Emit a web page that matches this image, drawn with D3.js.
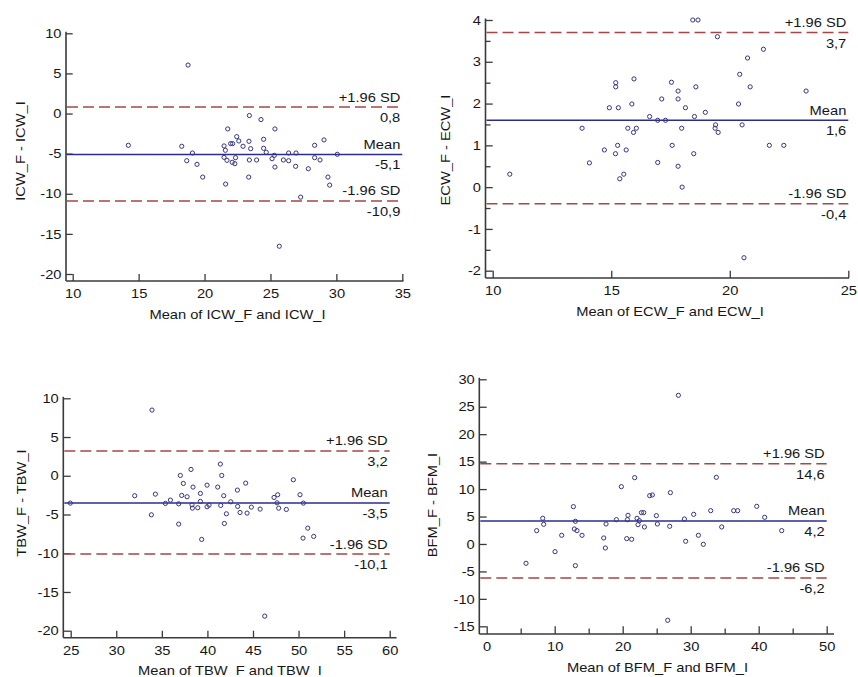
<!DOCTYPE html>
<html><head><meta charset="utf-8">
<script src="https://cdn.jsdelivr.net/npm/d3@7"></script>
<style>
html,body{margin:0;padding:0;background:#fff;}
svg{display:block;}
text{font-family:"Liberation Sans",Arial,sans-serif;font-size:13px;fill:#161616;}
</style>
</head><body>
<svg id="c" width="858" height="677"></svg>
<script>
// ---------------- DATA ----------------
const icwX = [14.22,18.75,18.27,19.08,18.65,19.43,19.86,21.48,21.58,21.76,21.98,22.13,22.44,22.6,22.92,21.48,21.7,22.1,22.3,22.35,21.6,23.37,23.5,23.4,23.4,23.35,23.95,24.28,24.48,24.48,24.68,25.34,25.29,25.12,25.34,25.67,25.98,26.38,26.38,26.94,26.91,27.29,27.87,28.35,28.35,28.76,29.06,29.36,29.49,30.07];
const icwY = [-3.96,6.04,-4.08,-4.92,-5.88,-6.33,-7.92,-4.04,-4.58,-1.92,-3.75,-3.75,-2.88,-3.42,-4.08,-5.46,-5.83,-6.08,-6.25,-5.5,-8.79,-3.46,-4.38,-0.25,-5.79,-7.92,-5.79,-0.75,-3.21,-4.33,-4.83,-1.92,-5.21,-5.63,-6.67,-16.54,-5.79,-4.92,-5.88,-4.92,-6.58,-10.42,-6.88,-3.96,-5.5,-5.79,-3.29,-7.92,-8.92,-5.08];
const icwLimits = [0.8, -5.1, -10.9];
const icwXTicks = [10,15,20,25,30,35];
const icwYTicks = [-20,-15,-10,-5,0,5,10];

const ecwX = [10.72,13.77,14.08,14.71,14.92,15.19,15.19,15.18,15.27,15.3,15.36,15.53,15.63,15.7,15.87,15.94,15.96,16.06,16.62,16.96,16.96,17.13,17.29,17.54,17.57,17.82,17.82,17.82,17.97,17.99,18.13,18.44,18.66,18.51,18.48,18.57,18.97,19.4,19.38,19.51,19.48,20.37,20.42,20.52,20.6,20.75,20.86,21.42,21.67,22.28,23.22];
const ecwY = [0.31,1.41,0.58,0.89,1.9,2.5,2.4,0.8,1.0,1.9,0.2,0.31,0.89,1.41,1.99,1.31,2.59,1.41,1.69,0.59,1.6,2.11,1.6,2.51,1.0,2.3,2.11,0.5,1.41,0.0,1.9,4.0,4.0,1.69,0.8,2.4,1.79,1.49,1.41,1.31,3.6,1.99,2.7,1.49,-1.69,3.09,2.4,3.3,1.0,1.0,2.3];
const ecwLimits = [3.7, 1.6, -0.4];
const ecwXTicks = [10,15,20,25];
const ecwYTicks = [-2,-1,0,1,2,3,4];
const ecwYMinor = [-1.5,-0.5,0.5,1.5,2.5,3.5];

const tbwX = [24.96,32.02,33.92,33.85,34.29,35.39,35.94,36.85,36.85,37.03,37.18,37.36,37.77,38.2,38.31,38.35,38.42,38.94,39.23,39.23,39.37,39.96,39.96,40.18,41.13,41.42,41.57,41.46,41.79,41.86,42.08,42.56,43.29,43.32,43.58,44.2,44.35,44.82,45.78,46.29,47.31,47.64,47.71,47.82,48.66,49.43,50.16,50.53,50.49,51.01,51.66];
const tbwY = [-3.53,-2.58,8.48,-5.04,-2.37,-3.57,-3.14,-3.62,-6.24,0.04,-2.54,-0.99,-2.71,0.82,-3.75,-4.18,-1.46,-4.13,-2.28,-3.31,-8.22,-1.21,-4.0,-3.79,-1.46,1.51,0.04,-3.83,-2.58,-6.16,-4.91,-3.36,-1.85,-3.96,-4.74,-0.95,-4.82,-4.05,-4.3,-18.12,-2.8,-3.49,-2.45,-4.18,-4.35,-0.52,-2.45,-3.53,-8.05,-6.76,-7.83];
const tbwLimits = [3.2, -3.5, -10.1];
const tbwXTicks = [25,30,35,40,45,50,55,60];
const tbwYTicks = [-20,-15,-10,-5,0,5,10];

const bfmX = [5.78,7.35,8.24,8.38,10.05,11.03,12.75,12.89,13.04,13.04,13.28,14.02,17.21,17.45,17.55,19.07,19.8,20.59,20.78,20.69,21.32,21.76,22.11,22.25,22.45,22.75,23.09,23.19,23.97,24.36,24.95,25.1,26.62,26.91,27.01,28.19,29.07,29.26,30.44,31.13,31.86,32.94,33.77,34.56,36.32,36.91,39.71,40.88,43.38];
const bfmY = [-3.52,2.43,4.68,3.58,-1.4,1.58,6.8,2.73,4.13,-3.95,2.43,1.58,1.09,-0.73,3.64,4.43,10.44,0.97,5.22,4.43,0.85,12.08,4.68,3.52,4.25,5.71,5.71,3.1,8.8,8.93,5.16,3.64,-13.9,3.22,9.35,27.08,4.55,0.49,5.4,1.58,-0.06,6.07,12.14,3.1,6.07,6.07,6.86,4.86,2.43];
const bfmLimits = [14.6, 4.2, -6.2];
const bfmXTicks = [0,10,20,30,40,50];
const bfmXMinor = [5,15,25,35,45];
const bfmYTicks = [-15,-10,-5,0,5,10,15,20,25,30];

const limitNames = ["+1.96 SD", "Mean", "-1.96 SD"];

// ---------------- LAYOUT ----------------
const panels = [
  {xs:icwX, ys:icwY, lim:icwLimits, xT:icwXTicks, yT:icwYTicks, xM:[], yM:[],
   xTitle:"Mean of ICW_F and ICW_I", yTitle:"ICW_F - ICW_I",
   px:[72.7,402.3], py:[274,33.3], axX:66, axY:281, axEnd:403.5,
   ytx:24.5, yty:151, xtx:237.5},
  {xs:ecwX, ys:ecwY, lim:ecwLimits, xT:ecwXTicks, yT:ecwYTicks, xM:[], yM:ecwYMinor,
   xTitle:"Mean of ECW_F and ECW_I", yTitle:"ECW_F - ECW_I",
   px:[492.7,848.3], py:[270.7,20], axX:485.5, axY:278, axEnd:849,
   ytx:450, yty:150, xtx:670},
  {xs:tbwX, ys:tbwY, lim:tbwLimits, xT:tbwXTicks, yT:tbwYTicks, xM:[], yM:[],
   xTitle:"Mean of TBW_F and TBW_I", yTitle:"TBW_F - TBW_I",
   px:[70.7,389.7], py:[630.7,398.3], axX:63.3, axY:637.7, axEnd:396.5,
   ytx:25.5, yty:503, xtx:230},
  {xs:bfmX, ys:bfmY, lim:bfmLimits, xT:bfmXTicks, yT:bfmYTicks, xM:bfmXMinor, yM:[],
   xTitle:"Mean of BFM_F and BFM_I", yTitle:"BFM_F - BFM_I",
   px:[486.7,826.7], py:[626.3,379.3], axX:479.3, axY:634, axEnd:834,
   ytx:437, yty:505, xtx:657.5}
];

const SX = 1.13;
const loc = d3.formatLocale({decimal:",", thousands:".", grouping:[3], currency:["",""], minus:"-"});
const f1 = loc.format(".1f");
const fi = loc.format("d");

const svg = d3.select("#c");
const AX = "#3a3a3a", MEANC = "#2c2c8c", SDC = "#a84646", PTC = "#353585";

function label(g, x, y, s, anchor, rot) {
  return g.append("text")
    .attr("transform", `translate(${x},${y})` + (rot ? " rotate(-90)" : "") + ` scale(${SX},1)`)
    .attr("text-anchor", anchor).text(s);
}

panels.forEach(p => {
  const x = d3.scaleLinear().domain([p.xT[0], p.xT[p.xT.length-1]]).range(p.px);
  const y = d3.scaleLinear().domain([p.yT[0], p.yT[p.yT.length-1]]).range(p.py);
  const g = svg.append("g");
  const tlY = p.px[0] - p.axX;   // inward tick length on y axis
  const tlX = p.axY - p.py[0];   // inward tick length on x axis

  // y axis ticks
  const ya = g.append("g").attr("transform", `translate(${p.axX},0)`)
    .call(d3.axisLeft(y).tickValues(p.yT).tickSize(-tlY).tickPadding(4).tickFormat(fi));
  if (p.yM.length) g.append("g").attr("transform", `translate(${p.axX},0)`)
    .call(d3.axisLeft(y).tickValues(p.yM).tickSize(-tlY*0.7).tickFormat(""));
  // x axis ticks
  const xa = g.append("g").attr("transform", `translate(0,${p.axY})`)
    .call(d3.axisBottom(x).tickValues(p.xT).tickSize(-tlX).tickPadding(8).tickFormat(fi));
  if (p.xM.length) g.append("g").attr("transform", `translate(0,${p.axY})`)
    .call(d3.axisBottom(x).tickValues(p.xM).tickSize(-tlX*0.7).tickFormat(""));
  g.selectAll(".domain").remove();
  g.selectAll(".tick line").attr("stroke", AX).attr("stroke-width", 1.3);
  g.selectAll(".tick text").attr("font-size", 13).attr("fill", "#161616")
    .attr("font-family", '"Liberation Sans",Arial,sans-serif')
    .attr("transform", `scale(${SX},1)`);

  // axis lines
  g.append("line").attr("x1", p.axX).attr("x2", p.axX)
    .attr("y1", p.py[1]-1.5).attr("y2", p.axY).attr("stroke", AX).attr("stroke-width", 1.6);
  g.append("line").attr("x1", p.axX).attr("x2", p.axEnd)
    .attr("y1", p.axY).attr("y2", p.axY).attr("stroke", AX).attr("stroke-width", 1.6);

  // reference lines
  p.lim.forEach((v, i) => {
    const yy = y(v);
    g.append("line").attr("x1", p.axX+1).attr("x2", p.px[1])
      .attr("y1", yy).attr("y2", yy)
      .attr("stroke", i === 1 ? MEANC : SDC).attr("stroke-width", 1.5)
      .attr("stroke-dasharray", i === 1 ? null : "11,5");
    label(g, p.px[1]-2, yy-5.5, limitNames[i], "end");
    label(g, p.px[1]-2, yy+15, f1(v), "end");
  });

  // points
  g.selectAll("circle.pt").data(p.xs.map((d, i) => [d, p.ys[i]])).join("circle")
    .attr("class", "pt").attr("cx", d => x(d[0])).attr("cy", d => y(d[1]))
    .attr("r", 2.1).attr("fill", "none").attr("stroke", PTC).attr("stroke-width", 1);

  // titles
  label(g, p.xtx, p.axY + 37.5, p.xTitle, "middle");
  label(g, p.ytx, p.yty, p.yTitle, "middle", true);
});
</script>
</body></html>
